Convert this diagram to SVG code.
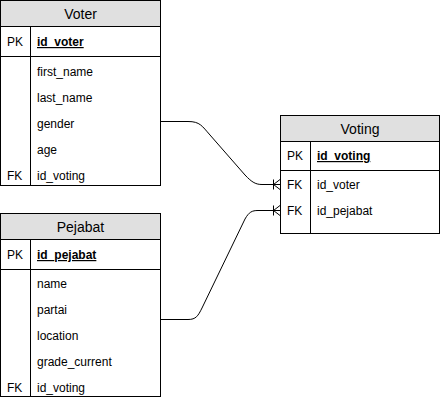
<svg xmlns="http://www.w3.org/2000/svg" width="441" height="402" viewBox="0 0 441 402">
<style>
.box{fill:#fff;stroke:#000;stroke-width:1}
.hdr{fill:#e0e0e0;stroke:#000;stroke-width:1}
.ln{stroke:#000;stroke-width:1;fill:none}
.t{font-family:"Liberation Sans",Arial,sans-serif;font-size:12px;fill:#000}
.h{font-family:"Liberation Sans",Arial,sans-serif;font-size:14px;fill:#000;text-anchor:middle}
.k{font-weight:bold;text-decoration:underline}
.c{stroke:#000;stroke-width:1;fill:none}
</style>
<rect width="441" height="402" fill="#fff"/>
<g id="voter">
<rect class="box" x="0.5" y="0.5" width="160" height="185"/>
<rect class="hdr" x="0.5" y="0.5" width="160" height="26"/>
<line class="ln" x1="0.5" y1="56.5" x2="160.5" y2="56.5"/>
<line class="ln" x1="30.5" y1="26.5" x2="30.5" y2="185.5"/>
<text class="h" x="80.5" y="19">Voter</text>
<text class="t" x="7" y="46">PK</text>
<text class="t k" x="37" y="46">id_voter</text>
<text class="t" x="37" y="76">first_name</text>
<text class="t" x="37" y="102">last_name</text>
<text class="t" x="37" y="128">gender</text>
<text class="t" x="37" y="154">age</text>
<text class="t" x="7" y="180">FK</text>
<text class="t" x="37" y="180">id_voting</text>
</g>
<g id="pejabat">
<rect class="box" x="0.5" y="213.5" width="160" height="183"/>
<rect class="hdr" x="0.5" y="213.5" width="160" height="26"/>
<line class="ln" x1="0.5" y1="269.5" x2="160.5" y2="269.5"/>
<line class="ln" x1="30.5" y1="239.5" x2="30.5" y2="396.5"/>
<text class="h" x="80.5" y="232">Pejabat</text>
<text class="t" x="7" y="259">PK</text>
<text class="t k" x="37" y="259">id_pejabat</text>
<text class="t" x="37" y="288">name</text>
<text class="t" x="37" y="314">partai</text>
<text class="t" x="37" y="340">location</text>
<text class="t" x="37" y="366">grade_current</text>
<text class="t" x="7" y="392">FK</text>
<text class="t" x="37" y="392">id_voting</text>
</g>
<g id="voting">
<rect class="box" x="280.5" y="115.5" width="159" height="118"/>
<rect class="hdr" x="280.5" y="115.5" width="159" height="26"/>
<line class="ln" x1="280.5" y1="170.5" x2="439.5" y2="170.5"/>
<line class="ln" x1="310.5" y1="141.5" x2="310.5" y2="233.5"/>
<text class="h" x="360" y="134">Voting</text>
<text class="t" x="287" y="160">PK</text>
<text class="t k" x="317" y="160">id_voting</text>
<text class="t" x="287" y="189">FK</text>
<text class="t" x="317" y="189">id_voter</text>
<text class="t" x="287" y="215">FK</text>
<text class="t" x="317" y="215">id_pejabat</text>
</g>
<g id="connectors">
<path class="c" d="M160.5 121.5 H188 C200 121.5 202 126 210 135 L245 175 C252 182.5 256 184.5 262 184.5 H280"/>
<path class="c" d="M273.5 179.5 V189.5 M273.5 184.5 L280 179.5 M273.5 184.5 L280 189.5"/>
<path class="c" d="M160.5 319.5 H188 C196 319.5 198 316 202 308 L245 219 C249 212 252 210.5 258 210.5 H280"/>
<path class="c" d="M273.5 205.5 V215.5 M273.5 210.5 L280 205.5 M273.5 210.5 L280 215.5"/>
</g>
</svg>
